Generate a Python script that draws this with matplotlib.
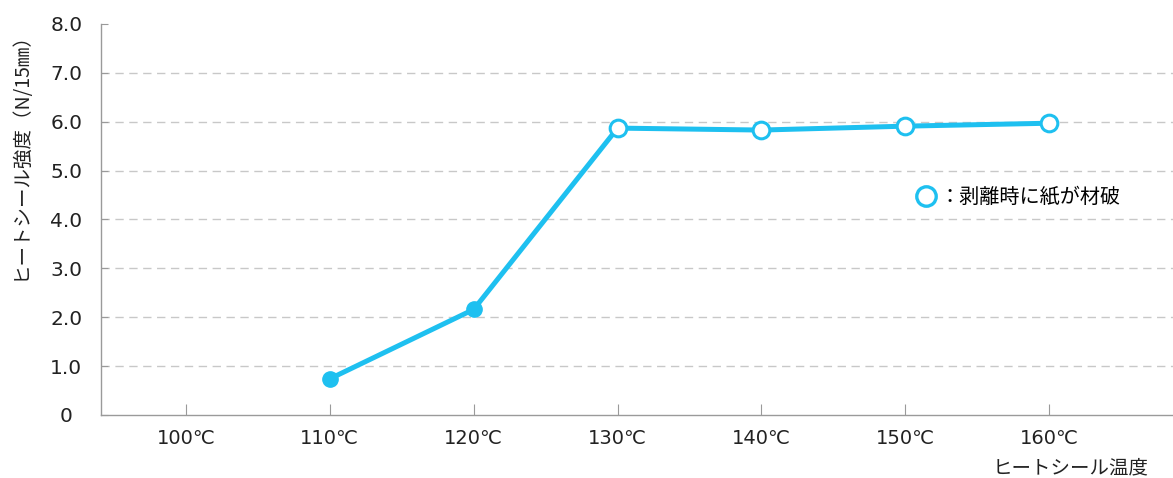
import matplotlib
matplotlib.use("Agg")
from matplotlib import pyplot as plt
from matplotlib.lines import Line2D

plt.rcParams['font.family'] = ['Noto Sans CJK JP', 'DejaVu Sans']

temps = [100, 110, 120, 130, 140, 150, 160]
temp_labels = ["100℃", "110℃", "120℃", "130℃", "140℃", "150℃", "160℃"]
meas_x = [110, 120, 130, 140, 150, 160]
strength = [0.74, 2.16, 5.87, 5.83, 5.91, 5.97]
paper_break = [False, False, True, True, True, True]
y_ticks = [0, 1, 2, 3, 4, 5, 6, 7, 8]
y_labels = ["0", "1.0", "2.0", "3.0", "4.0", "5.0", "6.0", "7.0", "8.0"]

blue = "#1ec0f0"
gray = "#9a9a9a"
num_font = ['DejaVu Sans', 'Noto Sans CJK JP']

fig = plt.figure(figsize=(11.73, 4.78), dpi=100)
ax = fig.add_axes([0.0861, 0.1318, 0.9139, 0.818])

ax.plot(meas_x, strength, color=blue, linewidth=3.6, zorder=3, solid_capstyle='round')
for x, y, brk in zip(meas_x, strength, paper_break):
    if brk:
        ax.plot(x, y, marker='o', markersize=12, markerfacecolor='white',
                markeredgecolor=blue, markeredgewidth=2.2, zorder=4)
    else:
        ax.plot(x, y, marker='o', markersize=11, markerfacecolor=blue,
                markeredgecolor=blue, zorder=4)

ax.set_xlim(94.1, 168.6)
ax.set_ylim(0, 8)
ax.set_xticks(temps)
ax.set_xticklabels(temp_labels, fontsize=14, color="#222222", family=num_font)
ax.set_yticks(y_ticks)
ax.set_yticklabels(y_labels, fontsize=14.5, color="#222222", ha='center', family=num_font)
ax.tick_params(axis='y', direction='in', length=5, color=gray, pad=25)
ax.tick_params(axis='x', direction='in', length=8, color=gray, pad=10)

for yv in y_ticks[1:-1]:
    ax.axhline(yv, color="#c8c8c8", linewidth=1, linestyle=(0, (6, 4)), zorder=1)

for s in ['top', 'right']:
    ax.spines[s].set_visible(False)
for s in ['left', 'bottom']:
    ax.spines[s].set_color(gray)
    ax.spines[s].set_linewidth(1)

handle = Line2D([], [], linestyle='none', marker='o', markersize=14,
                markerfacecolor='white', markeredgecolor=blue, markeredgewidth=2.4)
ax.legend([handle], ["：剥離時に紙が材破"], loc='center left',
          bbox_to_anchor=(0.7505, 0.557), frameon=False, fontsize=14.5,
          handlelength=1.0, handletextpad=0.2, borderpad=0)

fig.text(0.017, 0.685, "ヒートシール強度（N/15㎜）", rotation=90, fontsize=14,
         ha='center', va='center', color="#222222")
fig.text(0.913, 0.022, "ヒートシール温度", fontsize=14, ha='center', va='center',
         color="#222222")

plt.savefig("out.png", dpi=100)
